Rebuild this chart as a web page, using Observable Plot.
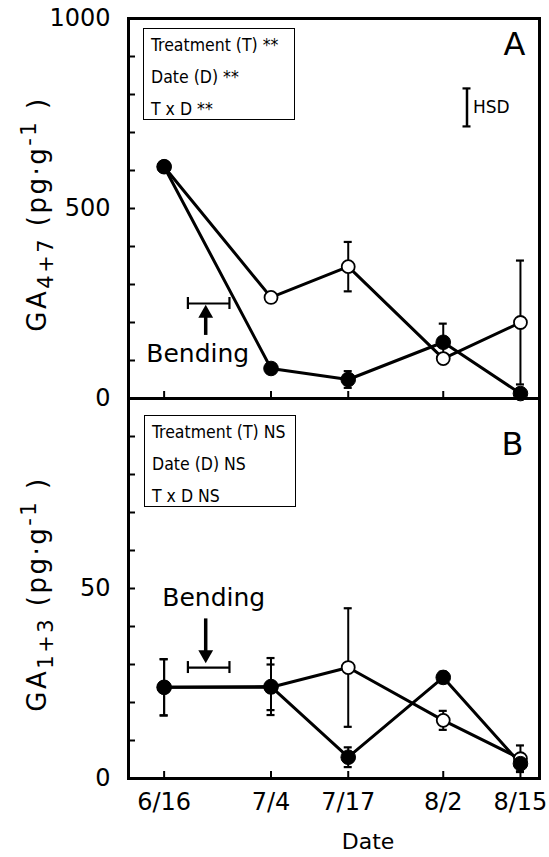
<!DOCTYPE html>
<html>
<head>
<meta charset="utf-8">
<script src="https://cdn.jsdelivr.net/npm/d3@7"></script>
<script src="https://cdn.jsdelivr.net/npm/@observablehq/plot@0.6"></script>
<style>
  html, body { margin: 0; padding: 0; background: #fff; }
  #chart { position: relative; width: 549px; height: 857px; overflow: hidden; font-family: "DejaVu Sans", sans-serif; }
  #chart svg { position: absolute; left: 0; overflow: visible; }
  .legend { position: absolute; box-sizing: border-box; border: 1.5px solid #000; background: #fff;
            font-family: "DejaVu Sans Condensed", "DejaVu Sans", sans-serif; font-stretch: condensed;
            font-size: 17.5px; line-height: 32px; padding-left: 7px; white-space: nowrap; color: #000; }
</style>
</head>
<body>
<div id="chart"></div>
<script>
// ---------------- data ----------------
const year = 2000;
const dateLabels = ["6/16", "7/4", "7/17", "8/2", "8/15"];

// Panel A: GA4+7 (pg·g-1)
const gaA_open      = [610, 266, 347, 105, 200];
const gaA_openErr   = [0, 0, 65, 0, 163];
const gaA_closed    = [610, 79, 50, 148, 13];
const gaA_closedErr = [0, 0, 22, 49, 0];
const yTicksA = [0, 500, 1000];
const yMinorA = [0, 100, 200, 300, 400, 500, 600, 700, 800, 900, 1000];

// Panel B: GA1+3 (pg·g-1)
const gaB_open      = [24, 24, 29.2, 15.3, 5.2];
const gaB_openErr   = [7.4, 6, 15.6, 2.5, 3.5];
const gaB_closed    = [24, 24.2, 5.6, 26.6, 3.9];
const gaB_closedErr = [7.4, 7.5, 2.6, 1.5, 2];
const yTicksB = [0, 50];
const yMinorB = [0, 10, 20, 30, 40, 50, 60, 70, 80, 90, 100];

// annotations (data space)
const statsA = ["Treatment (T) **", "Date (D) **", "T x D **"];
const statsB = ["Treatment (T) NS", "Date (D) NS", "T x D NS"];
const bendingRange = ["6/20", "6/27"];
const bendingArrow = "6/23";
const bendA = {bar: 250, arrowFrom: 166, arrowHead: 224, text: 118};
const bendB = {bar: 29.2, arrowFrom: 42, arrowHead: 32.6, text: 47.4};
const hsdDate = "8/6";
const hsd = {lo: 716, hi: 816};

// ---------------- helpers ----------------
const parseMD = s => { const [m, d] = s.split("/").map(Number); return new Date(Date.UTC(year, m - 1, d)); };
const dates = dateLabels.map(parseMD);
const xDomain = [new Date(Date.UTC(year, 5, 10)), new Date(Date.UTC(year, 7, 18, 5))];
const fmt = d => dateLabels[dates.findIndex(t => +t === +d)];

function rows(open, openErr, closed, closedErr) {
  const r = [];
  dates.forEach((d, i) => {
    r.push({date: d, v: open[i], e: openErr[i], s: "open"});
    r.push({date: d, v: closed[i], e: closedErr[i], s: "closed"});
  });
  return r;
}

const FONT = "DejaVu Sans, sans-serif";
const W = 549, ML = 128, MR = 10, PH = 380;
const PW = W - ML - MR;

function panelMarks(data, minor, bend, dir) {
  const withErr = data.filter(d => d.e > 0);
  const bar = [{a: parseMD(bendingRange[0]), b: parseMD(bendingRange[1]), y: bend.bar}];
  const arrowX = parseMD(bendingArrow);
  return [
    Plot.tickY(minor, {y: d => d, insetRight: PW - 7, strokeWidth: 2}),
    Plot.tickX(dates, {x: d => d, insetTop: PH - 7, strokeWidth: 2}),
    Plot.frame({strokeWidth: 3}),
    Plot.line(data, {x: "date", y: "v", z: "s", stroke: "#000", strokeWidth: 3}),
    Plot.ruleX(withErr, {x: "date", y1: d => d.v - d.e, y2: d => d.v + d.e, strokeWidth: 2}),
    Plot.ruleY(withErr, {x1: "date", x2: "date", y: d => d.v + d.e, insetLeft: -4, insetRight: -4, strokeWidth: 2.2}),
    Plot.ruleY(withErr, {x1: "date", x2: "date", y: d => d.v - d.e, insetLeft: -4, insetRight: -4, strokeWidth: 2.2}),
    Plot.dot(data.filter(d => d.s === "open"), {x: "date", y: "v", r: 6.5, fill: "#fff", stroke: "#000", strokeWidth: 1.8}),
    Plot.dot(data.filter(d => d.s === "closed"), {x: "date", y: "v", r: 7.3, fill: "#000", stroke: "#000", strokeWidth: 1}),
    // bending bar
    Plot.ruleY(bar, {x1: "a", x2: "b", y: "y", strokeWidth: 2.2}),
    Plot.ruleX(bar, {x: "a", y1: "y", y2: "y", insetTop: -6, insetBottom: -6, strokeWidth: 2.2}),
    Plot.ruleX(bar, {x: "b", y1: "y", y2: "y", insetTop: -6, insetBottom: -6, strokeWidth: 2.2}),
    Plot.ruleX([bend], {x: () => arrowX, y1: "arrowFrom", y2: "arrowHead", strokeWidth: 3.5}),
    Plot.dot([bend], {x: () => arrowX, y: "arrowHead", symbol: "triangle", r: 5.5, fill: "#000", rotate: dir === "up" ? 0 : 180}),
    Plot.text([bend], {x: () => arrowX, y: "text", text: () => "Bending", fontSize: 25, fontFamily: FONT, dx: dir === "up" ? -8 : 8, fill: "#000"})
  ];
}

function addYTitle(svg, sub, cx, cy) {
  const t = d3.select(svg).append("text")
    .attr("transform", `translate(${cx},${cy}) rotate(-90)`)
    .attr("text-anchor", "middle")
    .attr("font-family", FONT)
    .attr("font-size", 26)
    .attr("letter-spacing", "2.5px")
    .attr("fill", "#000");
  t.append("tspan").text("GA");
  t.append("tspan").attr("font-size", 21).attr("dy", "0.35em").text(sub);
  t.append("tspan").attr("dy", "-0.28em").text(" (pg·g");
  t.append("tspan").attr("font-size", 21).attr("dy", "-0.5em").text("-1");
  t.append("tspan").attr("dy", "0.4em").text(" )");
}

const chart = document.getElementById("chart");

// ---------------- Panel A ----------------
const dataA = rows(gaA_open, gaA_openErr, gaA_closed, gaA_closedErr);
const plotA = Plot.plot({
  width: W, height: 400, marginTop: 18, marginBottom: 2, marginLeft: ML, marginRight: MR,
  x: {type: "utc", domain: xDomain, axis: null},
  y: {domain: [0, 1000], axis: null},
  style: {fontFamily: FONT, background: "transparent", color: "#000", overflow: "visible"},
  marks: [
    Plot.axisY(yTicksA, {anchor: "left", tickSize: 0, tickPadding: 18, tickFormat: d => String(d), fontSize: 24, fontFamily: FONT, label: null}),
    ...panelMarks(dataA, yMinorA, bendA, "up"),
    Plot.ruleX([hsd], {x: () => parseMD(hsdDate), y1: "lo", y2: "hi", strokeWidth: 2.5}),
    Plot.ruleY([hsd], {x1: () => parseMD(hsdDate), x2: () => parseMD(hsdDate), y: "lo", insetLeft: -4, insetRight: -4, strokeWidth: 2.2}),
    Plot.ruleY([hsd], {x1: () => parseMD(hsdDate), x2: () => parseMD(hsdDate), y: "hi", insetLeft: -4, insetRight: -4, strokeWidth: 2.2}),
    Plot.text([hsd], {x: () => parseMD(hsdDate), y: d => (d.lo + d.hi) / 2, text: () => "HSD", textAnchor: "start", dx: 6, fontSize: 17, fontFamily: FONT}),
    Plot.text(["A"], {frameAnchor: "top-right", text: d => d, dx: -14, dy: 14, lineAnchor: "top", fontSize: 32, fontFamily: FONT})
  ]
});
plotA.style.top = "0px";
chart.appendChild(plotA);
addYTitle(plotA, "4+7", 46, 214);

// ---------------- Panel B ----------------
const dataB = rows(gaB_open, gaB_openErr, gaB_closed, gaB_closedErr);
const plotB = Plot.plot({
  width: W, height: 459, marginTop: 0, marginBottom: 79, marginLeft: ML, marginRight: MR,
  x: {type: "utc", domain: xDomain, axis: null},
  y: {domain: [0, 100], axis: null},
  style: {fontFamily: FONT, background: "transparent", color: "#000", overflow: "visible"},
  marks: [
    Plot.axisY(yTicksB, {anchor: "left", tickSize: 0, tickPadding: 18, tickFormat: d => String(d), fontSize: 24, fontFamily: FONT, label: null}),
    Plot.axisX(dates, {anchor: "bottom", tickSize: 0, tickPadding: 14, tickFormat: fmt, fontSize: 24, fontFamily: FONT, label: null}),
    ...panelMarks(dataB, yMinorB, bendB, "down"),
    Plot.text(["B"], {frameAnchor: "top-right", text: d => d, dx: -16, dy: 34, lineAnchor: "top", fontSize: 32, fontFamily: FONT}),
    Plot.text(["Date"], {frameAnchor: "bottom", text: d => d, dx: 34, dy: 70, fontSize: 22, fontFamily: FONT})
  ]
});
plotB.style.top = "398px";
chart.appendChild(plotB);
addYTitle(plotB, "1+3", 46, 196);

// ---------------- stats legends ----------------
function legend(lines, left, top) {
  const div = document.createElement("div");
  div.className = "legend";
  div.style.left = left + "px";
  div.style.top = top + "px";
  div.style.width = "152px";
  div.style.height = "92px";
  div.innerHTML = lines.map(l => `<div>${l}</div>`).join("");
  chart.appendChild(div);
}
legend(statsA, 143, 28);
legend(statsB, 144, 415);
</script>
</body>
</html>
